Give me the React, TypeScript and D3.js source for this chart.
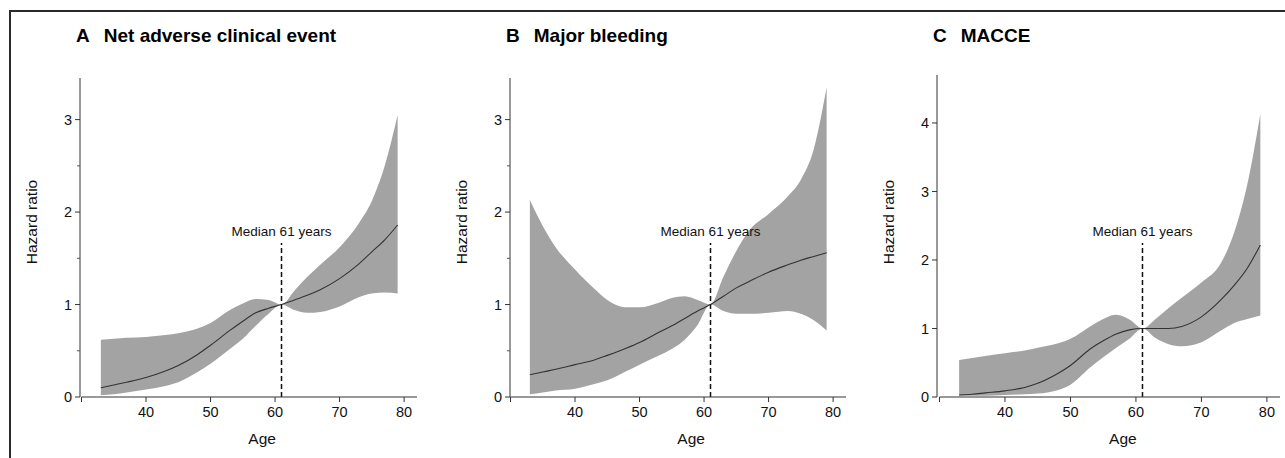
import { useEffect, useRef } from "react";
import * as d3 from "d3";

// ages at which the spline estimates were read
const ages = [33, 35, 37, 40, 43, 45, 48, 50, 53, 55, 57, 59, 61, 63, 65, 67, 70, 73, 75, 77, 79];

// A: net adverse clinical event
const nacHr = [0.1, 0.13, 0.16, 0.21, 0.28, 0.34, 0.46, 0.56, 0.72, 0.82, 0.91, 0.96, 1.0, 1.05, 1.1, 1.16, 1.28, 1.44, 1.57, 1.7, 1.86];
const nacHi = [0.62, 0.63, 0.64, 0.65, 0.67, 0.69, 0.74, 0.8, 0.94, 1.01, 1.06, 1.05, 1.0, 1.15, 1.3, 1.43, 1.62, 1.88, 2.12, 2.5, 3.05];
const nacLo = [0.02, 0.03, 0.05, 0.08, 0.12, 0.16, 0.27, 0.36, 0.52, 0.63, 0.77, 0.9, 1.0, 0.94, 0.91, 0.92, 0.98, 1.08, 1.12, 1.13, 1.12];

// B: major bleeding
const bleedHr = [0.24, 0.27, 0.3, 0.35, 0.4, 0.45, 0.53, 0.59, 0.7, 0.77, 0.85, 0.93, 1.0, 1.09, 1.18, 1.25, 1.35, 1.43, 1.48, 1.52, 1.56];
const bleedHi = [2.13, 1.85, 1.62, 1.38, 1.17, 1.05, 0.97, 0.97, 1.02, 1.07, 1.09, 1.05, 1.0, 1.3, 1.58, 1.8, 1.98, 2.17, 2.35, 2.68, 3.35];
const bleedLo = [0.03, 0.05, 0.07, 0.09, 0.14, 0.18, 0.28, 0.35, 0.45, 0.52, 0.62, 0.78, 1.0, 0.93, 0.9, 0.9, 0.91, 0.93, 0.9, 0.83, 0.72];

// C: MACCE
const macceHr = [0.03, 0.04, 0.06, 0.09, 0.14, 0.2, 0.34, 0.46, 0.7, 0.82, 0.92, 0.98, 1.0, 1.0, 1.0, 1.03, 1.17, 1.42, 1.63, 1.88, 2.22];
const macceHi = [0.54, 0.57, 0.6, 0.64, 0.68, 0.72, 0.78, 0.85, 1.03, 1.14, 1.2, 1.13, 1.0, 1.14, 1.3, 1.45, 1.67, 1.96, 2.4, 3.1, 4.13];
const macceLo = [0.02, 0.02, 0.02, 0.03, 0.04, 0.05, 0.1, 0.18, 0.43, 0.58, 0.72, 0.85, 1.0, 0.86, 0.77, 0.74, 0.8, 0.97, 1.08, 1.14, 1.19];

const xTicks = [40, 50, 60, 70, 80];
const medianAge = 61;

const panels = [
  { letter: "A", title: "Net adverse clinical event", hr: nacHr, hi: nacHi, lo: nacLo, yMax: 3.45, yTicks: [0, 1, 2, 3], minor: [0.5, 1.5, 2.5], x0: 81.5, x1: 417, yTop: 78, ax: 80 },
  { letter: "B", title: "Major bleeding", hr: bleedHr, hi: bleedHi, lo: bleedLo, yMax: 3.45, yTicks: [0, 1, 2, 3], minor: [0.5, 1.5, 2.5], x0: 510.5, x1: 846, yTop: 78, ax: 510 },
  { letter: "C", title: "MACCE", hr: macceHr, hi: macceHi, lo: macceLo, yMax: 4.7, yTicks: [0, 1, 2, 3, 4], minor: [], x0: 939.5, x1: 1280, yTop: 75, ax: 937 },
];

const font = "'Liberation Sans', Arial, sans-serif";

export default function App() {
  const svgRef = useRef<SVGSVGElement | null>(null);
  const width = 1285;
  const height = 458;
  const yBottom = 397;

  useEffect(() => {
    const svg = d3.select(svgRef.current);
    svg.selectAll("*").remove();

    // frame (top + left only)
    svg.append("path")
      .attr("d", `M10,458 L10,11 L1285,11`)
      .attr("fill", "none")
      .attr("stroke", "#2a2a2a")
      .attr("stroke-width", 2);

    panels.forEach((p) => {
      const g = svg.append("g");
      const x = d3.scaleLinear().domain([30, 82]).range([p.x0, p.x1]);
      const y = d3.scaleLinear().domain([0, p.yMax]).range([yBottom, p.yTop]);

      const rows = ages.map((a, i) => ({ age: a, hr: p.hr[i], hi: p.hi[i], lo: p.lo[i] }));

      const area = d3.area<{ age: number; hi: number; lo: number }>()
        .x((d) => x(d.age))
        .y0((d) => y(d.lo))
        .y1((d) => y(d.hi))
        .curve(d3.curveMonotoneX);
      g.append("path").attr("d", area(rows) as string).attr("fill", "#a3a3a3");

      const line = d3.line<{ age: number; hr: number }>()
        .x((d) => x(d.age))
        .y((d) => y(d.hr))
        .curve(d3.curveMonotoneX);
      g.append("path")
        .attr("d", line(rows) as string)
        .attr("fill", "none")
        .attr("stroke", "#333")
        .attr("stroke-width", 1.1);

      // median marker
      g.append("line")
        .attr("x1", x(medianAge)).attr("x2", x(medianAge))
        .attr("y1", yBottom).attr("y2", 243)
        .attr("stroke", "#111")
        .attr("stroke-width", 1.5)
        .attr("stroke-dasharray", "5,3");
      g.append("text")
        .attr("x", x(medianAge)).attr("y", 236)
        .attr("text-anchor", "middle")
        .style("font-family", font).style("font-size", "13.5px").attr("fill", "#111")
        .text(`Median ${medianAge} years`);

      // y axis
      g.append("line")
        .attr("x1", p.ax).attr("x2", p.ax)
        .attr("y1", p.yTop).attr("y2", yBottom)
        .attr("stroke", "#333").attr("stroke-width", 1);
      p.yTicks.forEach((t) => {
        g.append("line")
          .attr("x1", p.ax - 5).attr("x2", p.ax)
          .attr("y1", y(t)).attr("y2", y(t))
          .attr("stroke", "#333");
        g.append("text")
          .attr("x", p.ax - 8).attr("y", y(t)).attr("dy", "0.36em")
          .attr("text-anchor", "end")
          .style("font-family", font).style("font-size", "14.5px").attr("fill", "#111")
          .text(t);
      });
      p.minor.forEach((t) => {
        g.append("line")
          .attr("x1", p.ax - 3).attr("x2", p.ax)
          .attr("y1", y(t)).attr("y2", y(t))
          .attr("stroke", "#555");
      });

      // x axis
      g.append("line")
        .attr("x1", p.x0).attr("x2", p.x1)
        .attr("y1", yBottom).attr("y2", yBottom)
        .attr("stroke", "#333").attr("stroke-width", 1);
      [30, ...xTicks].forEach((t) => {
        g.append("line")
          .attr("x1", x(t)).attr("x2", x(t))
          .attr("y1", yBottom).attr("y2", yBottom + 5)
          .attr("stroke", "#333");
      });
      xTicks.forEach((t) => {
        g.append("text")
          .attr("x", x(t)).attr("y", 417)
          .attr("text-anchor", "middle")
          .style("font-family", font).style("font-size", "14.5px").attr("fill", "#111")
          .text(t);
      });

      // axis titles
      g.append("text")
        .attr("x", x(58)).attr("y", 444)
        .attr("text-anchor", "middle")
        .style("font-family", font).style("font-size", "15.5px").attr("fill", "#111")
        .text("Age");
      g.append("text")
        .attr("transform", `translate(${p.ax - 43},222) rotate(-90)`)
        .attr("text-anchor", "middle")
        .style("font-family", font).style("font-size", "15.5px").attr("fill", "#111")
        .text("Hazard ratio");

      // panel title
      const title = g.append("text")
        .attr("x", p.ax - 4).attr("y", 42)
        .style("font-family", font).style("font-size", "19px").style("font-weight", "bold").attr("fill", "#000");
      title.append("tspan").text(p.letter);
      title.append("tspan").attr("dx", 14).text(p.title);
    });
  }, []);

  return (
    <svg
      ref={svgRef}
      width={width}
      height={height}
      style={{ position: "absolute", left: 0, top: 0, background: "#fff" }}
    ></svg>
  );
}
